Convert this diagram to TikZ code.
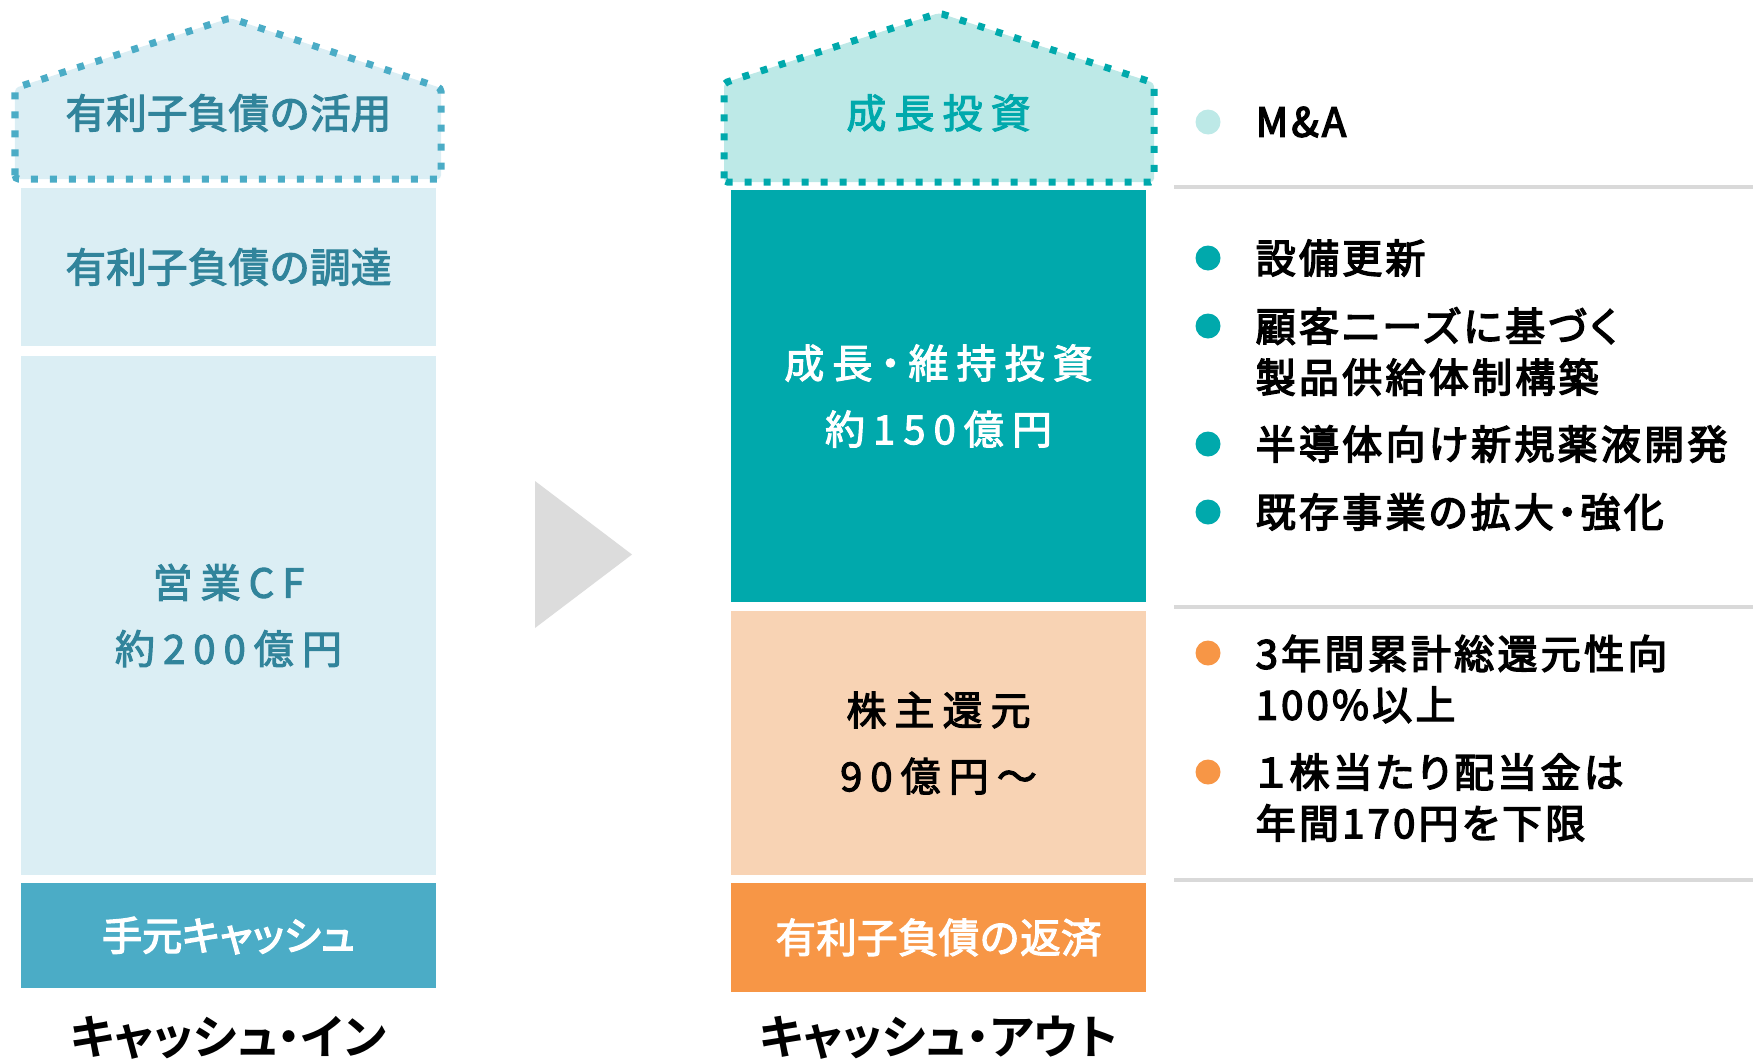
\documentclass[tikz,border=0pt]{standalone}
\usepackage{fontspec}
\setmainfont{Noto Sans CJK JP}[FakeBold=2.5]
\newfontfamily\jpwide[LetterSpace=20, RawFeature=+palt, FakeBold=2.5]{Noto Sans CJK JP}
\newfontfamily\jpitem[LetterSpace=8, RawFeature=+palt, FakeBold=3.5]{Noto Sans CJK JP}
\newfontfamily\jpprop[RawFeature=+palt, FakeBold=3.5]{Noto Sans CJK JP}
\newfontfamily\jpcap[RawFeature=+palt]{Noto Sans CJK JP Bold}
\usetikzlibrary{positioning}

\definecolor{inpale}{HTML}{DBEEF4}
\definecolor{inblue}{HTML}{4BACC6}
\definecolor{intext}{HTML}{31849B}
\definecolor{tealpale}{HTML}{BDE9E7}
\definecolor{tealmain}{HTML}{00A9AC}
\definecolor{peach}{HTML}{F8D3B4}
\definecolor{orangemain}{HTML}{F79646}
\definecolor{arrowgray}{HTML}{DCDCDC}
\definecolor{rulegray}{HTML}{D9D9D9}

\tikzset{
  block/.style={inner sep=0pt, minimum width=4.15cm, align=center},
  plaintext/.style={font=\fontsize{11.6}{14}\selectfont},
  widetext/.style={font=\jpwide\fontsize{11.4}{18.8}\selectfont},
  proptext/.style={font=\jpprop\fontsize{11.4}{14}\selectfont},
  house/.style={line width=0.07cm, dash pattern=on 0.07cm off 0.12cm, rounded corners=1pt},
  item/.style={anchor=west, inner sep=0pt, align=left, font=\jpitem\fontsize{11.4}{14.5}\selectfont},
  caption/.style={anchor=north, inner sep=0pt, font=\jpcap\fontsize{13.4}{16}\selectfont}
}

\begin{document}
\begin{tikzpicture}
        \useasboundingbox (0,0) rectangle (17.53,10.61);
        % cash in
        \filldraw[house, fill=inpale, draw=inblue] (0.15,8.82) -- (0.15,9.73) -- (2.3,10.43) -- (4.41,9.73) -- (4.41,8.82) -- cycle;
        \node[plaintext, text=intext] at (2.285, 9.48) (leverage) {有利子負債の活用};
        \node[block, plaintext, fill=inpale, text=intext, minimum height=1.58cm] at (2.285, 7.94) (raise) {有利子負債の調達};
        \node[block, widetext, fill=inpale, text=intext, minimum height=5.19cm] at (2.285, 4.455) (opcf) {営業CF\\約200億円};
        \node[block, proptext, fill=inblue, text=white, minimum height=1.05cm] at (2.285, 1.255) (cash) {手元キャッシュ};
        \node[caption] at (2.285, 0.46) (inlabel) {キャッシュ・イン};
        \fill[arrowgray] (5.35,5.80) -- (5.35,4.33) -- (6.32,5.065) -- cycle;
        % cash out
        \filldraw[house, fill=tealpale, draw=tealmain] (7.24,8.79) -- (7.24,9.78) -- (9.39,10.48) -- (11.54,9.78) -- (11.54,8.79) -- cycle;
        \node[widetext, text=tealmain] at (9.385, 9.48) (growth) {成長投資};
        \node[block, widetext, fill=tealmain, text=white, minimum height=4.12cm] at (9.385, 6.65) (invest) {成長・維持投資\\約150億円};
        \node[block, widetext, fill=peach, text=black, minimum height=2.64cm] at (9.385, 3.18) (payout) {株主還元\\90億円～};
        \node[block, plaintext, fill=orangemain, text=white, minimum height=1.09cm] at (9.385, 1.235) (repay) {有利子負債の返済};
        \node[caption] at (9.385, 0.46) (outlabel) {キャッシュ・アウト};
        % notes
        \foreach \y in {8.74, 4.54, 1.81}
           \draw[rulegray, line width=0.04cm] (11.74,\y) -- (17.53,\y);
        \foreach \y/\c in {9.39/tealpale, 8.03/tealmain, 7.35/tealmain, 6.17/tealmain, 5.49/tealmain, 4.08/orangemain, 2.89/orangemain}
           \fill[\c] (12.08,\y) circle(0.125);
        \node[item] at (12.55, 9.39) (ma) {M\&A};
        \node[item] at (12.55, 8.03) (renew) {設備更新};
        \node[item] at (12.55, 7.095) (supply) {顧客ニーズに基づく\\製品供給体制構築};
        \node[item] at (12.55, 6.17) (chem) {半導体向け新規薬液開発};
        \node[item] at (12.55, 5.49) (expand) {既存事業の拡大・強化};
        \node[item] at (12.55, 3.82) (ratio) {3年間累計総還元性向\\100\%以上};
        \node[item] at (12.55, 2.635) (dividend) {１株当たり配当金は\\年間170円を下限};
      \end{tikzpicture}
\end{document}
